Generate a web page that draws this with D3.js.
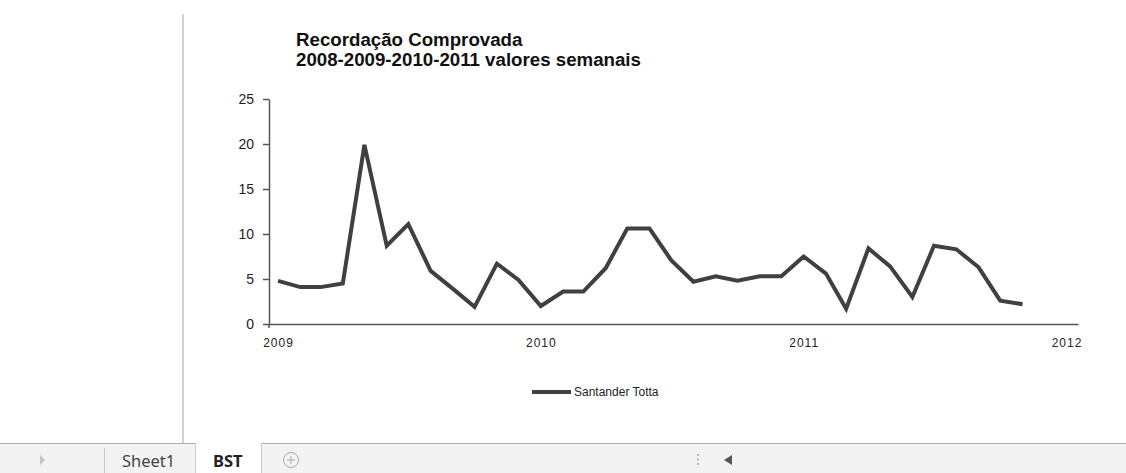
<!DOCTYPE html>
<html><head><meta charset="utf-8">
<script src="https://cdnjs.cloudflare.com/ajax/libs/d3/7.8.5/d3.min.js"></script>
<style>
html,body{margin:0;padding:0;background:#fff;}
svg{display:block;}
</style></head>
<body><svg id="c" width="1126" height="473"></svg>
<script>
const titleLines = ["Recordação Comprovada", "2008-2009-2010-2011 valores semanais"];
const seriesName = "Santander Totta";
const months = ["2009-01","2009-02","2009-03","2009-04","2009-05","2009-06","2009-07","2009-08","2009-09","2009-10","2009-11","2009-12",
                "2010-01","2010-02","2010-03","2010-04","2010-05","2010-06","2010-07","2010-08","2010-09","2010-10","2010-11","2010-12",
                "2011-01","2011-02","2011-03","2011-04","2011-05","2011-06","2011-07","2011-08","2011-09","2011-10","2011-11"];
const values = [4.8,4.1,4.1,4.5,19.9,8.7,11.1,5.9,3.9,1.9,6.7,4.9,
                2.0,3.6,3.6,6.2,10.6,10.6,7.1,4.7,5.3,4.8,5.3,5.3,
                7.5,5.6,1.7,8.4,6.4,3.0,8.7,8.3,6.3,2.6,2.2];
const yearTicks = ["2009","2010","2011","2012"];
const yTicks = [0,5,10,15,20,25];
const sheetTabs = ["Sheet1","BST"];

const svg = d3.select("#c");
const parseM = d3.timeParse("%Y-%m");
const parseY = d3.timeParse("%Y");
const data = months.map((m,i)=>({d:parseM(m), v:values[i]}));

const x = d3.scaleTime()
  .domain([new Date(2008,11,19,12), new Date(2012,0,17)])
  .range([269,1078]);
const y = d3.scaleLinear().domain([0,25]).range([324,99]);

// sheet vertical line
svg.append("line").attr("x1",183).attr("x2",183).attr("y1",14).attr("y2",443)
  .attr("stroke","#b4b4b4").attr("stroke-width",1.2);

// title
const t = svg.append("text").attr("font-family","Liberation Sans, Arial, sans-serif")
  .attr("font-weight","bold").attr("font-size",18.7).attr("fill","#111");
titleLines.forEach((s,i)=>t.append("tspan").attr("x",296).attr("y",46+i*19.5).text(s));

// y axis
const ya = svg.append("g").attr("transform","translate(269,0)")
  .call(d3.axisLeft(y).tickValues(yTicks).tickSize(6).tickPadding(9).tickSizeOuter(0));
ya.select(".domain").attr("stroke","#555").attr("stroke-width",1.5);
ya.selectAll(".tick line").attr("stroke","#555").attr("stroke-width",1.5);
ya.selectAll(".tick text").attr("font-family","Liberation Sans, Arial, sans-serif")
  .attr("font-size",14).attr("fill","#222");
svg.append("line").attr("x1",269).attr("x2",269).attr("y1",324).attr("y2",328)
  .attr("stroke","#555").attr("stroke-width",1.5);

// x axis
const xa = svg.append("g").attr("transform","translate(0,324)")
  .call(d3.axisBottom(x).tickValues(yearTicks.map(parseY)).tickSize(0).tickPadding(14)
    .tickFormat(d3.timeFormat("%Y")).tickSizeOuter(0));
xa.select(".domain").attr("stroke","#555").attr("stroke-width",1.5);
xa.selectAll(".tick text").attr("font-family","Liberation Sans, Arial, sans-serif")
  .attr("font-size",12).attr("letter-spacing","1px").attr("fill","#222");

// line
svg.append("path").datum(data)
  .attr("d", d3.line().x(d=>x(d.d)).y(d=>y(d.v)))
  .attr("fill","none").attr("stroke","#404040").attr("stroke-width",4)
  .attr("stroke-linejoin","miter");

// legend
svg.append("line").attr("x1",532).attr("x2",571).attr("y1",392).attr("y2",392)
  .attr("stroke","#404040").attr("stroke-width",4);
svg.append("text").attr("x",574).attr("y",396).attr("font-family","Liberation Sans, Arial, sans-serif")
  .attr("font-size",12).attr("fill","#222").text(seriesName);

// tab bar
const bar = svg.append("g");
bar.append("rect").attr("x",0).attr("y",443).attr("width",1126).attr("height",30).attr("fill","#f3f3f3");
bar.append("rect").attr("x",195).attr("y",443).attr("width",66).attr("height",30).attr("fill","#fff");
bar.append("line").attr("x1",0).attr("x2",195).attr("y1",443.5).attr("y2",443.5).attr("stroke","#acacac");
bar.append("line").attr("x1",261).attr("x2",1126).attr("y1",443.5).attr("y2",443.5).attr("stroke","#acacac");
bar.append("line").attr("x1",195.5).attr("x2",195.5).attr("y1",443).attr("y2",473).attr("stroke","#c8c8c8");
bar.append("line").attr("x1",261.5).attr("x2",261.5).attr("y1",443).attr("y2",473).attr("stroke","#c8c8c8");
bar.append("line").attr("x1",104.5).attr("x2",104.5).attr("y1",448).attr("y2",473).attr("stroke","#c8c8c8");
bar.append("path").attr("d","M40,455 L45,460 L40,465 Z").attr("fill","#c4c4c4");
bar.append("text").attr("x",122).attr("y",467).attr("font-family","Noto Sans, sans-serif")
  .attr("font-size",16.5).attr("fill","#444").text(sheetTabs[0]);
bar.append("text").attr("x",213).attr("y",467).attr("font-family","Noto Sans, sans-serif")
  .attr("font-weight","bold").attr("font-size",16.5).attr("fill","#222").text(sheetTabs[1]);
bar.append("circle").attr("cx",291).attr("cy",460).attr("r",7.5).attr("fill","none").attr("stroke","#a8a8a8");
bar.append("path").attr("d","M291,456 V464 M287,460 H295").attr("stroke","#a8a8a8");
[455,459.5,464].forEach(yy=>bar.append("circle").attr("cx",698).attr("cy",yy).attr("r",0.9).attr("fill","#999"));
bar.append("path").attr("d","M724,460 L732,455 L732,465 Z").attr("fill","#555");
</script></body></html>
